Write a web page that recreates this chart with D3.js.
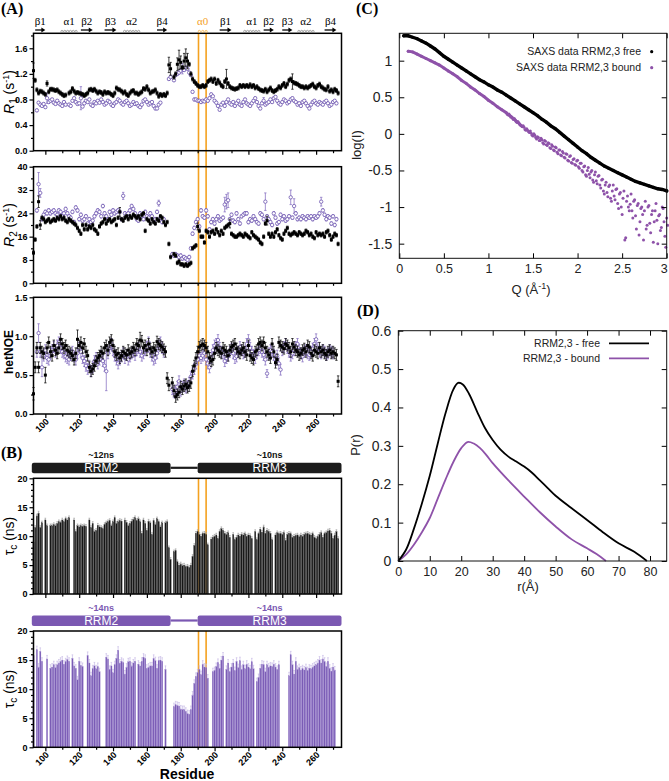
<!DOCTYPE html>
<html>
<head>
<meta charset="utf-8">
<title>RRM2,3 relaxation, correlation times and SAXS</title>
<script src="https://d3js.org/d3.v7.min.js"></script>
<style>
  body { margin: 0; background: #fff; }
  svg { display: block; }
</style>
</head>
<body>
<script>
// ---------------- data ----------------
// residue-wise values, first entry = residue 93, last = residue 273 (null = no data)
const resStart = 93;

const r1Free = [
  1.25,1.10,0.95,0.90,0.93,0.92,0.90,0.88,1.05,0.92,
  0.96,0.96,0.95,0.94,0.95,0.92,0.90,0.88,0.86,0.87,
  null,0.90,0.92,0.97,0.93,0.90,0.91,0.90,0.89,0.88,
  0.86,0.88,0.90,0.95,0.96,0.94,0.96,0.93,0.90,0.92,
  0.91,0.88,0.92,0.90,0.91,0.90,0.88,0.86,0.90,0.98,
  0.96,0.95,0.93,0.90,0.92,0.88,0.86,0.90,0.93,0.94,
  0.90,0.90,0.88,0.90,0.92,0.97,0.96,1.00,0.95,0.90,
  0.92,0.93,0.95,0.90,0.85,0.88,0.86,0.88,0.86,0.90,
  1.34,1.28,null,1.15,1.20,1.35,1.42,1.38,1.30,1.40,
  1.45,1.40,1.35,1.20,1.12,1.08,1.05,1.02,1.00,1.00,
  1.02,1.00,1.02,1.08,1.10,1.12,1.08,1.12,1.05,1.10,
  1.06,1.02,1.00,1.08,1.12,1.05,1.00,0.98,0.97,0.96,
  0.97,0.98,1.02,1.00,1.02,1.00,1.02,1.00,1.03,1.00,
  1.02,0.98,1.00,0.97,0.95,0.94,0.93,0.96,0.92,0.95,
  0.98,0.94,0.92,0.94,0.96,1.00,0.98,1.02,1.05,1.00,
  1.04,1.10,1.12,1.08,1.06,1.05,1.04,1.02,1.00,1.00,
  0.98,1.00,0.98,1.00,1.02,1.04,1.00,0.98,1.02,1.04,
  1.00,0.98,0.96,0.95,1.00,0.93,0.95,0.92,0.96,0.94,
  0.90
];
const r1Bound = [
  null,null,0.63,0.75,0.72,0.70,0.73,0.68,0.82,0.76,
  0.78,0.80,0.75,0.73,0.78,0.74,0.72,0.70,0.76,0.72,
  null,0.72,0.70,0.78,0.82,0.76,0.73,0.74,0.82,0.69,
  0.74,0.78,0.76,0.80,0.72,0.70,0.76,0.74,0.78,0.75,
  0.80,0.76,0.72,0.74,0.78,0.76,0.72,0.70,0.74,0.76,
  0.80,0.78,0.74,0.72,0.76,0.78,0.74,0.70,0.72,0.76,
  0.73,0.74,0.70,0.68,0.72,0.78,0.80,0.76,0.72,0.74,
  0.76,0.70,0.66,0.66,0.72,0.75,null,null,null,null,
  1.12,1.15,null,1.10,1.18,1.20,1.22,1.25,1.28,1.26,
  1.30,1.28,1.22,1.18,0.92,0.80,0.80,0.78,0.78,0.76,
  0.78,0.77,0.80,0.78,0.82,0.88,0.85,0.78,0.75,0.70,
  0.64,0.72,0.75,0.70,0.76,0.80,0.74,0.72,0.76,0.70,
  0.74,0.78,0.72,0.70,0.76,0.80,0.74,0.72,0.70,0.74,
  0.78,0.82,0.76,0.70,0.66,0.74,0.78,0.72,0.74,0.76,
  0.80,0.76,0.82,0.84,0.78,0.74,0.72,0.76,0.80,0.78,
  0.74,0.76,0.80,0.82,0.78,0.76,0.72,0.74,0.70,0.76,
  0.78,0.74,0.70,0.66,0.72,0.76,0.78,0.74,0.72,0.76,
  0.74,0.72,0.76,0.78,0.74,0.70,0.72,0.76,0.78,0.74,
  null
];
const r2Free = [
  10.5,15.0,19.5,28.0,20.0,22.5,22.0,21.0,21.5,22.0,
  21.0,21.5,22.0,21.5,22.5,22.0,23.0,22.0,22.5,21.5,
  21.0,22.0,21.5,21.0,20.5,20.0,19.0,18.0,17.0,20.0,
  18.5,20.0,18.5,19.5,19.0,20.0,18.5,18.0,17.0,19.5,
  20.5,21.0,22.0,20.5,21.5,22.0,21.0,21.5,22.0,20.0,
  22.5,24.5,22.0,21.5,22.5,23.0,22.0,23.0,22.5,23.5,
  23.0,22.5,23.0,22.0,23.5,24.0,18.0,22.0,21.5,20.5,
  22.0,21.0,20.5,22.0,21.5,23.0,22.5,21.0,20.0,21.0,
  13.5,9.0,null,10.0,9.5,7.0,7.5,6.5,6.5,6.0,
  6.5,6.0,6.5,7.0,12.0,12.5,13.0,19.5,18.0,16.0,
  16.0,14.0,18.0,17.5,16.0,17.5,18.0,17.0,18.5,17.5,
  16.5,18.0,17.0,19.0,19.5,20.0,20.5,17.0,16.5,16.0,
  16.0,16.5,17.0,16.5,16.0,17.0,16.5,16.0,15.5,17.5,
  16.5,16.0,15.5,15.0,14.0,13.5,16.0,20.5,21.5,17.0,
  16.0,17.0,16.0,17.5,18.5,16.5,15.5,15.0,17.0,18.0,
  19.0,17.0,16.5,17.0,17.5,17.0,16.5,17.5,17.0,16.5,
  17.0,18.0,17.5,16.5,17.0,16.0,15.5,17.5,16.5,17.0,
  16.5,17.0,16.0,17.5,18.0,16.5,15.0,16.0,17.0,16.5,
  13.5
];
const r2Bound = [
  null,null,25.0,34.0,31.0,22.0,23.5,24.5,24.0,25.0,
  24.0,24.5,25.0,24.0,23.5,25.0,24.5,23.0,24.0,25.5,
  24.0,23.0,22.5,24.5,21.0,26.0,25.0,22.0,23.5,21.5,
  22.0,23.0,20.5,22.0,21.0,21.5,23.0,24.0,25.0,24.5,
  23.0,26.5,24.0,23.0,22.0,24.5,23.5,25.0,24.0,24.5,
  25.0,24.5,22.0,30.0,24.0,23.5,24.0,25.0,26.5,25.5,
  24.0,22.0,21.5,24.0,23.0,22.0,24.5,23.0,22.5,24.0,
  23.0,21.5,22.0,24.5,27.5,22.5,21.0,22.0,null,null,
  null,null,10.0,9.5,10.0,9.5,9.0,9.5,8.5,9.0,
  8.5,8.0,9.0,12.0,17.0,19.0,21.0,22.0,19.5,25.0,
  23.0,22.5,25.0,23.0,18.5,21.0,22.0,20.5,22.0,23.0,
  21.5,22.0,22.5,27.0,28.0,28.5,22.0,23.5,21.5,21.0,
  24.0,22.0,20.5,23.0,23.5,24.0,24.0,21.0,22.0,21.5,
  23.0,22.0,21.0,20.5,24.0,23.5,22.0,28.0,23.0,22.0,
  21.0,20.0,24.0,22.5,20.5,21.0,23.5,22.0,23.0,21.5,
  22.0,23.0,29.5,22.5,26.5,24.0,22.0,22.5,22.0,23.0,
  22.5,22.0,23.0,22.5,23.0,22.0,23.0,22.5,23.0,24.0,
  28.0,25.0,23.5,22.0,23.0,22.5,20.5,23.0,20.0,22.0,
  null
];
const noeFree = [
  0.26,0.60,0.85,0.60,0.85,0.80,0.78,0.50,0.85,0.92,
  0.80,0.75,0.88,0.82,0.78,0.85,0.96,0.90,0.85,0.88,
  0.82,0.80,0.78,0.75,0.70,0.78,0.96,0.88,0.92,0.85,
  0.90,0.80,0.75,0.60,0.55,0.58,0.62,0.68,0.72,0.75,
  0.80,0.78,0.85,0.88,0.82,0.92,0.95,0.88,0.80,0.76,
  0.78,0.72,0.75,0.80,0.78,0.76,0.82,0.78,0.80,0.85,
  0.82,0.90,0.88,0.95,0.94,0.85,0.88,0.82,0.90,0.84,
  0.80,0.85,0.82,0.93,0.90,0.88,0.86,0.83,0.80,0.46,
  0.37,null,0.40,0.30,0.22,0.25,0.28,0.35,0.32,0.36,
  0.38,0.34,0.36,0.40,0.55,0.62,0.72,0.80,0.86,0.88,
  0.90,0.88,0.85,0.80,0.72,0.68,0.70,0.78,0.85,0.82,
  0.80,0.78,0.85,0.82,0.80,0.75,0.82,0.86,0.88,0.90,
  0.84,0.80,0.78,0.82,0.85,0.80,0.76,0.88,0.75,0.72,
  0.70,0.80,0.82,0.90,0.92,0.88,0.92,0.85,0.80,0.76,
  0.72,0.90,0.80,0.66,0.70,0.92,0.88,0.86,0.84,0.90,
  0.88,0.85,0.80,0.90,0.86,0.82,0.80,0.76,0.78,0.82,
  0.84,0.80,0.88,0.86,0.78,0.75,0.82,0.80,0.78,0.85,
  0.80,0.82,0.78,0.76,0.80,0.82,0.78,0.80,0.78,0.76,
  0.42
];
const noeBound = [
  null,null,0.80,1.04,0.80,0.60,0.75,0.82,0.72,0.70,
  0.78,0.82,0.86,0.80,0.88,0.92,0.85,0.80,0.78,0.74,
  0.72,0.70,0.76,0.80,0.74,0.70,0.78,0.85,0.80,0.72,
  0.68,0.62,0.58,0.62,0.55,0.60,0.68,0.72,0.65,0.70,
  0.75,0.68,0.62,0.55,0.78,0.85,0.90,0.82,0.75,0.70,
  0.65,0.70,0.74,0.78,0.72,0.76,0.70,0.74,0.78,0.80,
  0.76,0.82,0.85,0.80,0.75,0.78,0.82,0.86,0.92,0.80,
  0.75,0.70,0.72,0.78,0.88,0.92,0.85,0.80,null,null,
  null,null,0.32,0.28,0.30,0.35,0.42,0.30,0.35,0.38,
  0.34,0.36,0.40,0.48,0.52,0.58,0.65,0.70,0.75,0.72,
  0.75,0.78,0.70,0.65,0.60,0.72,0.82,0.88,0.90,0.95,
  0.85,0.80,0.78,0.68,0.72,0.75,0.80,0.84,0.78,0.72,
  0.74,0.80,0.86,0.82,0.78,0.80,0.90,0.95,0.85,0.80,
  0.76,0.72,0.78,0.82,0.85,0.80,0.76,0.70,0.52,0.78,
  0.82,0.80,0.76,0.70,0.75,0.65,0.57,0.82,0.86,0.90,
  0.85,0.80,0.75,0.78,0.82,0.86,0.90,0.82,0.78,0.74,
  0.80,0.82,0.78,0.76,0.80,0.84,0.90,0.96,0.85,0.80,
  0.78,0.82,0.80,0.76,0.78,0.82,0.80,0.78,null,null,
  null
];
const tauFree = [
  9.0,11.5,13.5,14.0,11.5,12.3,null,12.8,11.8,null,
  11.8,11.8,12.0,11.8,12.2,12.5,12.3,12.8,12.5,13.0,
  12.8,13.2,null,null,12.8,10.8,11.8,11.6,11.8,11.7,
  11.8,11.7,null,12.8,11.5,12.2,10.8,11.0,11.9,11.6,
  11.5,11.3,12.0,12.3,12.5,12.7,11.8,12.5,13.2,12.2,
  12.5,12.7,12.6,null,12.8,12.4,11.8,12.2,12.6,12.9,
  13.2,12.7,13.0,12.5,10.5,12.8,12.2,11.0,12.6,12.3,
  10.3,12.7,12.0,13.0,12.5,11.6,12.3,null,12.3,12.5,
  8.0,6.0,null,7.3,7.5,5.6,5.0,5.2,4.9,5.0,
  4.7,4.8,4.6,5.0,6.5,8.4,10.5,10.8,10.3,10.0,
  10.4,10.5,10.3,8.5,null,9.5,9.8,10.0,10.2,9.6,
  10.8,11.3,11.0,10.5,10.3,10.6,9.8,null,10.3,9.4,
  9.8,10.2,10.0,10.3,10.2,10.4,10.0,10.2,10.1,9.6,
  null,10.8,9.4,10.4,11.2,10.7,11.6,10.5,11.0,10.8,
  10.5,9.4,null,10.2,10.6,10.4,10.5,10.3,10.6,9.3,
  10.3,10.5,10.4,9.8,10.0,10.1,10.2,9.9,10.2,10.0,
  10.3,10.4,10.5,10.3,10.2,10.4,9.8,9.6,9.9,10.3,
  10.6,9.8,10.4,10.6,10.9,11.0,10.5,9.6,10.2,10.8,
  9.6
];
const tauBound = [
  15.8,null,16.8,13.8,16.5,14.8,null,null,15.2,null,
  13.6,13.8,14.2,13.7,14.2,14.5,14.8,15.0,14.3,14.7,
  15.1,14.8,null,15.3,14.0,13.6,11.6,14.8,14.1,13.9,
  null,null,15.8,14.5,12.3,13.5,14.0,13.5,13.9,13.0,
  null,null,null,15.5,15.2,13.4,14.0,12.8,14.2,15.3,
  16.7,14.5,14.8,14.6,12.6,13.8,14.7,14.8,14.0,14.5,
  14.8,null,14.3,14.0,14.8,15.5,15.3,13.6,13.8,14.0,
  14.0,15.3,14.9,13.6,14.9,15.0,14.8,null,13.4,null,
  null,null,null,7.0,7.3,7.2,7.1,6.6,6.5,6.5,
  6.2,5.8,5.7,6.5,9.0,11.0,12.2,12.8,13.4,12.5,
  14.3,13.8,13.7,11.9,null,null,13.0,13.2,13.9,14.6,
  13.6,15.0,15.7,null,13.4,14.5,13.0,13.8,14.5,13.2,
  14.8,13.7,14.9,13.4,14.2,13.5,14.3,13.8,13.5,14.7,
  13.5,null,11.3,12.0,13.6,14.3,14.2,13.0,14.2,13.8,
  14.0,13.9,14.3,13.8,13.4,14.2,null,null,null,null,
  null,12.3,15.9,14.2,12.6,14.8,13.4,13.7,13.3,13.5,
  13.3,13.7,13.2,13.6,13.5,13.8,14.0,14.2,14.5,15.0,
  14.5,15.2,14.8,13.9,14.8,13.6,13.1,13.8,13.3,null,
  null
];

// error bars: typical size per series, larger ones listed by residue
const r1FreeErr = 0.03,  r1FreeErrBig  = {93:0.12, 101:0.04, 173:0.12, 174:0.1, 178:0.1, 179:0.15, 180:0.1, 182:0.12, 183:0.14, 184:0.12, 207:0.15, 246:0.12};
const r1BoundErr = 0.02, r1BoundErrBig = {101:0.08, 121:0.18, 181:0.08, 229:0.05};
const r2FreeErr = 0.6,   r2FreeErrBig  = {96:2.0, 97:1.5, 144:1.5, 190:1.2, 209:1.5, 231:1.5};
const r2BoundErr = 0.6,  r2BoundErrBig = {96:4.0, 97:1.5, 146:1.2, 167:1.0, 206:2.5, 207:2.5, 208:2.5, 230:3.0, 245:2.5, 247:2.5, 263:1.5};
const noeFreeErr = 0.07, noeFreeErrBig = {93:0.08, 100:0.1, 119:0.12, 156:0.1};
const noeBoundErr = 0.07, noeBoundErrBig = {96:0.12, 98:0.12, 136:0.25, 231:0.05};
const tauFreeErr = 0.3, tauBoundErr = 0.6;

// secondary structure (residue ranges) and the alpha0 helix boundaries
const secStruct = [
  {label: "β1", type: "strand", from: 94,  to: 100},
  {label: "α1", type: "helix",  from: 109, to: 119},
  {label: "β2", type: "strand", from: 121, to: 128},
  {label: "β3", type: "strand", from: 135, to: 142},
  {label: "α2", type: "helix",  from: 146, to: 156},
  {label: "β4", type: "strand", from: 166, to: 172},
  {label: "α0", type: "helix0", from: 190, to: 196},
  {label: "β1", type: "strand", from: 203, to: 210},
  {label: "α1", type: "helix",  from: 217, to: 227},
  {label: "β2", type: "strand", from: 229, to: 235},
  {label: "β3", type: "strand", from: 240, to: 246},
  {label: "α2", type: "helix",  from: 249, to: 259},
  {label: "β4", type: "strand", from: 265, to: 272}
];
const alpha0Lines = [190.5, 195];
const domains = [{name: "RRM2", from: 92, to: 174}, {name: "RRM3", from: 190, to: 275}];
const tauFreeLabels = ["~12ns", "~10ns"];
const tauBoundLabels = ["~14ns", "~14ns"];
const resTicks = [100, 120, 140, 160, 180, 200, 220, 240, 260];
const resMinor = [110, 130, 150, 170, 190, 210, 230, 250, 270];

// SAXS log(I) on a uniform q grid
const qStep = 0.05;
const qFreeStart = 0.05;
const saxsFree = [
  1.34,1.34,1.32,1.30,1.27,1.24,1.20,1.16,1.11,1.06,
  1.02,0.98,0.94,0.90,0.86,0.82,0.78,0.74,0.71,0.67,
  0.64,0.60,0.57,0.53,0.49,0.45,0.41,0.37,0.33,0.29,
  0.25,0.20,0.16,0.11,0.07,0.02,-0.03,-0.08,-0.13,-0.18,
  -0.23,-0.27,-0.32,-0.36,-0.40,-0.44,-0.47,-0.50,-0.53,-0.56,
  -0.59,-0.62,-0.65,-0.67,-0.69,-0.71,-0.73,-0.75,-0.76,-0.78
];
const qBoundStart = 0.10;
const saxsBoundLow = [
  1.13,1.12,1.09,1.06,1.03,1.00,0.97,0.94,0.90,0.86,
  0.82,0.78,0.73,0.69,0.64,0.60,0.55,0.51,0.46,0.42,
  0.37,0.33
];
const qHighStart = 1.20, qHighStep = 0.02;
const saxsBoundHighA = [
  0.29,0.26,0.25,0.23,0.20,0.19,0.16,0.15,0.12,0.10,
  0.09,0.05,0.05,0.02,0.01,-0.03,-0.02,-0.07,-0.05,-0.09,
  -0.08,-0.14,-0.10,-0.16,-0.13,-0.20,-0.17,-0.23,-0.19,-0.27,
  -0.22,-0.30,-0.26,-0.33,-0.28,-0.37,-0.30,-0.40,-0.34,-0.43,
  -0.36,-0.47,-0.40,-0.52,-0.44,-0.58,-0.46,-0.60,-0.50,-0.66,
  -0.52,-0.68,-0.57,-0.74,-0.62,-0.82,-0.66,-0.86,-0.70,-0.92,
  -0.70,-0.90,-0.75,-1.02,-0.80,-1.10,-0.78,-1.42,-0.85,-1.05,
  -0.82,-1.15,-0.90,-1.30,-0.95,-1.20,-1.00,-1.45,-0.92,-1.25,
  -0.98,-1.35,-1.05,-1.20,-0.95,-1.50,-1.10,-1.28,-1.02,-1.40,
  -1.15
];
const saxsBoundHighB = [
  0.27,0.27,0.23,0.22,0.21,0.17,0.17,0.13,0.11,0.11,
  0.06,0.07,0.03,0.04,-0.02,0.00,-0.05,-0.04,-0.09,-0.06,
  -0.12,-0.09,-0.15,-0.12,-0.19,-0.15,-0.22,-0.18,-0.25,-0.22,
  -0.29,-0.24,-0.32,-0.27,-0.36,-0.31,-0.39,-0.35,-0.42,-0.37,
  -0.45,-0.40,-0.50,-0.45,-0.56,-0.50,-0.55,-0.52,-0.63,-0.56,
  -0.64,-0.58,-0.70,-0.63,-0.78,-0.70,-0.80,-0.72,-0.88,-0.78,
  -0.85,-0.76,-0.95,-0.82,-1.00,-0.88,-1.45,-0.92,-1.00,-0.96,
  -1.05,-0.92,-1.12,-0.98,-1.38,-1.02,-1.10,-1.05,-1.30,-1.00,
  -1.22,-1.10,-1.48,-1.05,-1.18,-1.12,-1.32,-1.00,-1.20,-1.55,
  -1.25
];

// P(r) distributions: [r, P(r)]
const prFree = [
  [0,0],[2.5,0.03],[5,0.085],[7.5,0.15],[10,0.222],[12.5,0.305],[15,0.385],[17.5,0.447],
  [19,0.464],[20.5,0.46],[22.5,0.435],[25,0.39],[27.5,0.347],[30,0.315],[32.5,0.29],
  [35,0.272],[37.5,0.259],[40,0.246],[42.5,0.23],[45,0.21],[47.5,0.19],[50,0.17],
  [55,0.138],[60,0.107],[65,0.075],[70,0.046],[75,0.024],[79,0]
];
const prBound = [
  [0,0],[2.5,0.017],[5,0.043],[7.5,0.075],[10,0.112],[12.5,0.162],[15,0.212],[17.5,0.258],
  [20,0.294],[22,0.31],[24,0.306],[26,0.294],[28,0.276],[30,0.255],[35,0.21],[40,0.168],
  [45,0.127],[50,0.09],[55,0.057],[60,0.033],[63,0.018],[66,0]
];

// ---------------- drawing ----------------
const SANS = "'Liberation Sans', Arial, Helvetica, sans-serif";
const SERIF = "'Liberation Serif', 'Times New Roman', serif";
const ORANGE = "#f4a11f";
const PURPLE = "#7a5bb5";
const PURPLE_C = "#8e52a9";

const svg = d3.select("body").append("svg").attr("width", 669).attr("height", 781)
  .style("font-family", SANS);

const xRes = d3.scaleLinear().domain([93, 275]).range([33.5, 341.5]);
const [xL, xR] = xRes.range();

function toPoints(arr) {
  return arr.map((v, i) => ({res: resStart + i, v: v})).filter(d => d.v != null);
}

function panelLabel(txt, x, y) {
  svg.append("text").attr("x", x).attr("y", y).text(txt)
    .style("font-family", SERIF).style("font-weight", "bold").style("font-size", "16px");
}

function leftAxes(g, y, o) {
  const ax = g.append("g").attr("transform", `translate(${xL},0)`)
    .call(d3.axisLeft(y).tickValues(o.ticks).tickSize(4).tickPadding(2).tickFormat(o.fmt));
  ax.select(".domain").remove();
  ax.selectAll("text").style("font-weight", "bold").style("font-size", "9px").style("font-family", SANS);
  const mn = g.append("g").attr("transform", `translate(${xL},0)`)
    .call(d3.axisLeft(y).tickValues(o.minor).tickSize(2.5).tickFormat(""));
  mn.select(".domain").remove();
  const bx = g.append("g").attr("transform", `translate(0,${o.bottom})`)
    .call(d3.axisBottom(xRes).tickValues(resTicks).tickSize(4).tickFormat(""));
  bx.select(".domain").remove();
  const bm = g.append("g").attr("transform", `translate(0,${o.bottom})`)
    .call(d3.axisBottom(xRes).tickValues(resMinor).tickSize(2.5).tickFormat(""));
  bm.select(".domain").remove();
  g.selectAll(".tick line").attr("stroke-width", 1.2);
  g.append("rect").attr("x", xL).attr("y", o.top).attr("width", xR - xL).attr("height", o.bottom - o.top)
    .attr("fill", "none").attr("stroke", "#000").attr("stroke-width", 1.5);
  if (o.labels) {
    g.selectAll(".reslab").data(resTicks).join("text")
      .attr("transform", d => `translate(${xRes(d) + 2},${o.bottom + 6}) rotate(-45)`)
      .attr("text-anchor", "end").attr("dy", "0.35em")
      .style("font-weight", "bold").style("font-size", "9px").text(d => d);
  }
}

function errBars(g, pts, y, base, big, color, cap) {
  g.append("g").selectAll("path").data(pts).join("path")
    .attr("d", d => {
      const e = big[d.res] != null ? big[d.res] : base;
      const x = xRes(d.res), y0 = y(d.v - e), y1 = y(d.v + e);
      return `M${x},${y0}V${y1}M${x - cap},${y0}H${x + cap}M${x - cap},${y1}H${x + cap}`;
    })
    .attr("stroke", color).attr("stroke-width", 0.8).attr("fill", "none");
}

function relaxPanel(o) {
  const y = d3.scaleLinear().domain(o.domain).range([o.bottom, o.top]);
  const g = svg.append("g");
  const fp = toPoints(o.free), bp = toPoints(o.bound);
  errBars(g, bp, y, o.boundErr, o.boundBig, "#8c76c4", 1.2);
  g.append("g").selectAll("circle").data(bp).join("circle")
    .attr("cx", d => xRes(d.res)).attr("cy", d => y(d.v)).attr("r", 1.7)
    .attr("fill", "#fff").attr("stroke", "#6d55b0").attr("stroke-width", 0.8);
  errBars(g, fp, y, o.freeErr, o.freeBig, "#111", 1.2);
  g.append("g").selectAll("rect").data(fp).join("rect")
    .attr("x", d => xRes(d.res) - 1.5).attr("y", d => y(d.v) - 1.5)
    .attr("width", 3).attr("height", 3).attr("fill", "#000");
  leftAxes(g, y, o);
  return g;
}

function yTitle(x, y, parts) {
  const t = svg.append("text").attr("transform", `translate(${x},${y}) rotate(-90)`)
    .attr("text-anchor", "middle").style("font-size", "14px");
  parts.forEach(p => {
    const s = t.append("tspan").text(p.t);
    if (p.dy) s.attr("dy", p.dy);
    if (p.size) s.style("font-size", p.size);
    if (p.italic) s.style("font-style", "italic");
    if (p.bold) s.style("font-weight", "bold");
  });
}

// --- orange lines across panel A (behind data)
svg.append("g").selectAll("line").data(alpha0Lines).join("line")
  .attr("x1", d => xRes(d)).attr("x2", d => xRes(d)).attr("y1", 33.3).attr("y2", 414)
  .attr("stroke", ORANGE).attr("stroke-width", 1.6);

// --- panel A
panelLabel("(A)", 1, 14);

relaxPanel({top: 33.3, bottom: 150.7, domain: [0, 1.834], ticks: [0, 0.4, 0.8, 1.2, 1.6],
  minor: [0.2, 0.6, 1.0, 1.4, 1.8], fmt: d3.format(".1f"),
  free: r1Free, bound: r1Bound, freeErr: r1FreeErr, freeBig: r1FreeErrBig,
  boundErr: r1BoundErr, boundBig: r1BoundErrBig, labels: false});
relaxPanel({top: 166.7, bottom: 283.3, domain: [0, 40], ticks: [0, 8, 16, 24, 32, 40],
  minor: [4, 12, 20, 28, 36], fmt: d3.format("d"),
  free: r2Free, bound: r2Bound, freeErr: r2FreeErr, freeBig: r2FreeErrBig,
  boundErr: r2BoundErr, boundBig: r2BoundErrBig, labels: false});
relaxPanel({top: 297.3, bottom: 414, domain: [0, 1.5], ticks: [0, 0.5, 1.0, 1.5],
  minor: [0.25, 0.75, 1.25], fmt: d3.format(".1f"),
  free: noeFree, bound: noeBound, freeErr: noeFreeErr, freeBig: noeFreeErrBig,
  boundErr: noeBoundErr, boundBig: noeBoundErrBig, labels: true});

yTitle(14, 92, [{t: "R", italic: true}, {t: "1", dy: 3, size: "10px"}, {t: " (s", dy: -3}, {t: "-1", dy: -5, size: "9px"}, {t: ")", dy: 5}]);
yTitle(14, 225, [{t: "R", italic: true}, {t: "2", dy: 3, size: "10px"}, {t: " (s", dy: -3}, {t: "-1", dy: -5, size: "9px"}, {t: ")", dy: 5}]);
yTitle(13, 352, [{t: "hetNOE", bold: true, size: "12px"}]);

// secondary structure row
const ss = svg.append("g");
secStruct.forEach(s => {
  const x0 = xRes(s.from), x1 = xRes(s.to), col = s.type === "helix0" ? ORANGE : "#000";
  ss.append("text").attr("x", (x0 + x1) / 2).attr("y", 25).attr("text-anchor", "middle")
    .style("font-family", SERIF).style("font-size", "11px").attr("fill", col).text(s.label);
  if (s.type === "strand") {
    ss.append("line").attr("x1", x0).attr("x2", x1 - 3).attr("y1", 30).attr("y2", 30)
      .attr("stroke", "#000").attr("stroke-width", 1.3);
    ss.append("path").attr("d", `M${x1},30L${x1 - 4},27.6L${x1 - 4},32.4Z`).attr("fill", "#000");
  } else {
    const n = Math.max(3, Math.floor((x1 - x0) / 2.6));
    const step = (x1 - x0) / n;
    ss.append("g").selectAll("circle").data(d3.range(n)).join("circle")
      .attr("cx", i => x0 + step * (i + 0.5)).attr("cy", 31.4).attr("r", 1.1)
      .attr("fill", "none").attr("stroke", s.type === "helix0" ? ORANGE : "#777").attr("stroke-width", 0.6);
  }
});

// --- panel B
panelLabel("(B)", 1, 458);

function tauPanel(o) {
  const y = d3.scaleLinear().domain([0, 20]).range([o.bottom, o.top]);
  const g = svg.append("g");
  // domain bars
  const barY = o.top - 15.5;
  g.append("line").attr("x1", xRes(domains[0].to)).attr("x2", xRes(domains[1].from))
    .attr("y1", barY + 5).attr("y2", barY + 5).attr("stroke", o.dom).attr("stroke-width", 2.2);
  domains.forEach((d, i) => {
    g.append("rect").attr("x", xRes(d.from)).attr("y", barY).attr("width", xRes(d.to) - xRes(d.from))
      .attr("height", 10.5).attr("rx", 2).attr("fill", o.dom);
    g.append("text").attr("x", (xRes(d.from) + xRes(d.to)) / 2).attr("y", barY + 5.4)
      .attr("text-anchor", "middle").attr("dy", "0.35em").attr("fill", "#fff")
      .style("font-size", "12px").text(d.name);
    g.append("text").attr("x", (xRes(d.from) + xRes(d.to)) / 2).attr("y", barY - 5)
      .attr("text-anchor", "middle").attr("fill", o.lab)
      .style("font-size", "9px").style("font-weight", "bold").text(o.tauLabels[i]);
  });
  g.append("g").selectAll("line").data(alpha0Lines).join("line")
    .attr("x1", d => xRes(d)).attr("x2", d => xRes(d)).attr("y1", o.top).attr("y2", o.bottom)
    .attr("stroke", ORANGE).attr("stroke-width", 1.6);
  const pts = toPoints(o.vals);
  g.append("g").selectAll("path").data(pts).join("path")
    .attr("d", d => {
      const x = xRes(d.res), y1 = y(d.v + o.err);
      return `M${x},${y(d.v)}V${y1}M${x - 0.8},${y1}H${x + 0.8}`;
    })
    .attr("stroke", o.errCol).attr("stroke-width", 0.7);
  g.append("g").selectAll("rect").data(pts).join("rect")
    .attr("x", d => xRes(d.res) - 0.7).attr("y", d => y(d.v))
    .attr("width", 1.4).attr("height", d => o.bottom - y(d.v))
    .attr("fill", o.fill).attr("stroke", o.edge).attr("stroke-width", 0.25);
  leftAxes(g, y, {top: o.top, bottom: o.bottom, ticks: [0, 5, 10, 15, 20],
    minor: d3.range(1, 20).filter(v => v % 5 !== 0), fmt: d3.format("d"), labels: o.labels});
}

tauPanel({top: 478.3, bottom: 594, vals: tauFree, err: tauFreeErr, fill: "#151515", edge: "#555",
  errCol: "#a0a0a0", dom: "#1c1c1c", lab: "#111", tauLabels: tauFreeLabels, labels: false});
tauPanel({top: 631, bottom: 747.3, vals: tauBound, err: tauBoundErr, fill: PURPLE, edge: "#a58fd2",
  errCol: "#c9bbe6", dom: "#7b58b2", lab: "#7b58b2", tauLabels: tauBoundLabels, labels: true});

yTitle(14, 536, [{t: "τ"}, {t: "c", dy: 3, size: "10px"}, {t: " (ns)", dy: -3}]);
yTitle(14, 689, [{t: "τ"}, {t: "c", dy: 3, size: "10px"}, {t: " (ns)", dy: -3}]);
svg.append("text").attr("x", 187).attr("y", 779).attr("text-anchor", "middle")
  .style("font-weight", "bold").style("font-size", "14px").text("Residue");

// --- right-hand panels
function boxAxes(g, x, y, o) {
  const [x0, x1] = x.range(), [y0, y1] = y.range();
  const lab = (sel, size) => sel.selectAll("text").style("font-size", size).style("font-family", SANS).attr("fill", "#222");
  const b = g.append("g").attr("transform", `translate(0,${y0})`)
    .call(d3.axisBottom(x).tickValues(o.xt).tickSizeInner(-5).tickSizeOuter(0).tickPadding(6).tickFormat(d => String(d)));
  lab(b, "12.5px");
  // keep the last label inside the page
  const bt = b.selectAll("text").nodes();
  d3.select(bt[bt.length - 1]).attr("dx", o.lastDx || 0);
  const t = g.append("g").attr("transform", `translate(0,${y1})`)
    .call(d3.axisTop(x).tickValues(o.xt).tickSizeInner(-5).tickSizeOuter(0).tickFormat(""));
  const l = g.append("g").attr("transform", `translate(${x0},0)`)
    .call(d3.axisLeft(y).tickValues(o.yt).tickSizeInner(-5).tickSizeOuter(0).tickPadding(7).tickFormat(d => String(d)));
  lab(l, "14px");
  const r = g.append("g").attr("transform", `translate(${x1},0)`)
    .call(d3.axisRight(y).tickValues(o.yt).tickSizeInner(-5).tickSizeOuter(0).tickFormat(""));
  [b, t, l, r].forEach(a => a.select(".domain").remove());
  g.append("rect").attr("x", x0).attr("y", y1).attr("width", x1 - x0).attr("height", y0 - y1)
    .attr("fill", "none").attr("stroke", "#111").attr("stroke-width", 1);
}

// panel C
panelLabel("(C)", 356, 14);
const xq = d3.scaleLinear().domain([0, 3]).range([399.3, 666.7]);
const yq = d3.scaleLinear().domain([-1.7, 1.374]).range([258.3, 33.3]);
const gC = svg.append("g");
const freePts = saxsFree.map((v, i) => [qFreeStart + i * qStep, v]);
const lowPts = saxsBoundLow.map((v, i) => [qBoundStart + i * qStep, v]);
const highPts = saxsBoundHighA.map((v, i) => [qHighStart + i * qHighStep, v])
  .concat(saxsBoundHighB.map((v, i) => [qHighStart + (i + 0.5) * qHighStep, v]));
const qLine = d3.line().x(d => xq(d[0])).y(d => yq(d[1]));
gC.append("path").attr("d", qLine(lowPts.concat(highPts.slice(0, 10))))
  .attr("fill", "none").attr("stroke", PURPLE_C).attr("stroke-width", 3).attr("stroke-linecap", "round");
gC.append("g").selectAll("circle").data(lowPts.concat(highPts)).join("circle")
  .attr("cx", d => xq(d[0])).attr("cy", d => yq(d[1])).attr("r", 1.5).attr("fill", PURPLE_C);
gC.append("path").attr("d", qLine(freePts))
  .attr("fill", "none").attr("stroke", "#000").attr("stroke-width", 3.4).attr("stroke-linecap", "round");
gC.append("g").selectAll("circle").data(freePts).join("circle")
  .attr("cx", d => xq(d[0])).attr("cy", d => yq(d[1])).attr("r", 1.6).attr("fill", "#000");
boxAxes(gC, xq, yq, {xt: [0, 0.5, 1, 1.5, 2, 2.5, 3], yt: [-1.5, -1, -0.5, 0, 0.5, 1], lastDx: -3});
[["SAXS data RRM2,3 free", "#000", 51.7], ["SAXS data RRM2,3 bound", PURPLE_C, 67.7]].forEach(l => {
  gC.append("text").attr("x", 641).attr("y", l[2]).attr("dy", "0.35em").attr("text-anchor", "end")
    .style("font-size", "10.5px").attr("fill", "#222").text(l[0]);
  gC.append("circle").attr("cx", 651.7).attr("cy", l[2]).attr("r", 1.6).attr("fill", l[1]);
});
svg.append("text").attr("transform", "translate(361,145) rotate(-90)").attr("text-anchor", "middle")
  .style("font-size", "13px").attr("fill", "#222").text("log(I)");
const qt = svg.append("text").attr("x", 531).attr("y", 294).attr("text-anchor", "middle")
  .style("font-size", "13px").attr("fill", "#222");
qt.append("tspan").text("Q (Å");
qt.append("tspan").attr("dy", -5).style("font-size", "9px").text("-1");
qt.append("tspan").attr("dy", 5).text(")");

// panel D
panelLabel("(D)", 357, 316);
const xr = d3.scaleLinear().domain([0, 85.3]).range([398.3, 666.7]);
const yp = d3.scaleLinear().domain([0, 0.6]).range([561, 330.7]);
const gD = svg.append("g");
const prLine = d3.line().curve(d3.curveCatmullRom.alpha(0.5)).x(d => xr(d[0])).y(d => yp(d[1]));
gD.append("path").attr("d", prLine(prBound)).attr("fill", "none").attr("stroke", PURPLE_C).attr("stroke-width", 1.8);
gD.append("path").attr("d", prLine(prFree)).attr("fill", "none").attr("stroke", "#000").attr("stroke-width", 1.8);
boxAxes(gD, xr, yp, {xt: [0, 10, 20, 30, 40, 50, 60, 70, 80], yt: [0, 0.1, 0.2, 0.3, 0.4, 0.5, 0.6]});
[["RRM2,3 - free", "#000", 343.3], ["RRM2,3 - bound", PURPLE_C, 358.3]].forEach(l => {
  gD.append("text").attr("x", 600).attr("y", l[2]).attr("dy", "0.35em").attr("text-anchor", "end")
    .style("font-size", "10.5px").attr("fill", "#222").text(l[0]);
  gD.append("line").attr("x1", 609).attr("x2", 649).attr("y1", l[2]).attr("y2", l[2])
    .attr("stroke", l[1]).attr("stroke-width", 1.8);
});
svg.append("text").attr("transform", "translate(360,445) rotate(-90)").attr("text-anchor", "middle")
  .style("font-size", "13px").attr("fill", "#222").text("P(r)");
svg.append("text").attr("x", 528).attr("y", 591).attr("text-anchor", "middle")
  .style("font-size", "13px").attr("fill", "#222").text("r(Å)");
</script>
</body>
</html>
